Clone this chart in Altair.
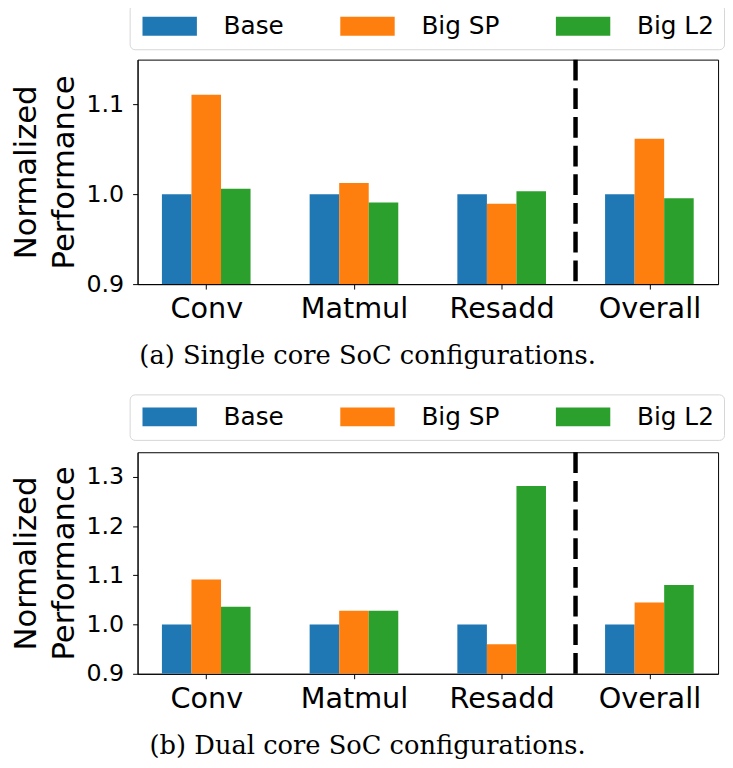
import json
import altair as alt
import pandas as pd

categories = ["Conv", "Matmul", "Resadd", "Overall"]
series = ["Base", "Big SP", "Big L2"]
colors = ["#1f77b4", "#ff7f0e", "#2ca02c"]

single_base = [1.000, 1.000, 1.000, 1.000]
single_sp = [1.111, 1.0125, 0.9896, 1.0619]
single_l2 = [1.0062, 0.991, 1.0033, 0.9955]

dual_base = [1.000, 1.000, 1.000, 1.000]
dual_sp = [1.0917, 1.028, 0.960, 1.0448]
dual_l2 = [1.036, 1.028, 1.2814, 1.0804]

single_ticks = [0.9, 1.0, 1.1]
dual_ticks = [0.9, 1.0, 1.1, 1.2, 1.3]
single_domain = [0.9, 1.15]
dual_domain = [0.9, 1.35]
divider = [2.5]

captions = ["(a) Single core SoC configurations.", "(b) Dual core SoC configurations."]

BAR_W = 0.2
X_DOMAIN = [-0.465, 3.465]
label_expr = json.dumps(categories) + "[datum.value]"


def make_df(vals):
    rows = []
    for si, (s, arr) in enumerate(zip(series, vals)):
        for ci, (c, v) in enumerate(zip(categories, arr)):
            rows.append({"cat": c, "ci": ci, "series": s, "si": si, "value": v})
    return pd.DataFrame(rows)


def x_axis():
    return alt.Axis(values=[0, 1, 2, 3], labelExpr=label_expr, title=None, grid=False,
                    labelFontSize=29, labelAngle=0, tickSize=5, labelPadding=6,
                    labelFlush=False, domainColor="black", tickColor="black",
                    labelColor="black", labelFont="DejaVu Sans")


def panel(vals, domain, ticks, height, legend_y, caption):
    df = make_df(vals)
    xscale = alt.Scale(domain=X_DOMAIN, nice=False, zero=False)
    bars = alt.Chart(df).transform_calculate(
        x0=f"datum.ci + (datum.si - 1) * {BAR_W} - {BAR_W / 2}",
        x1=f"datum.ci + (datum.si - 1) * {BAR_W} + {BAR_W / 2}",
    ).mark_bar(clip=True).encode(
        x=alt.X("x0:Q", scale=xscale, axis=x_axis()),
        x2="x1:Q",
        y=alt.Y("value:Q", scale=alt.Scale(domain=domain, nice=False, zero=False),
                axis=alt.Axis(values=ticks, format=".1f", grid=False,
                              title=["Normalized", "Performance"],
                              titleFontSize=31, titleFontWeight="normal",
                              titleLineHeight=38, titlePadding=6,
                              titleColor="black", titleFont="DejaVu Sans",
                              labelFontSize=24, labelFont="DejaVu Sans",
                              labelColor="black", tickSize=5, labelPadding=9,
                              domainColor="black", tickColor="black")),
        y2=alt.Y2(datum=domain[0]),
        color=alt.Color("series:N", sort=series,
                        scale=alt.Scale(domain=series, range=colors),
                        legend=alt.Legend(title=None, orient="none", direction="horizontal",
                                          legendX=-8, legendY=legend_y,
                                          symbolType="M-1,-1L4.79,-1L4.79,1L-1,1Z",
                                          symbolSize=361, symbolStrokeWidth=0,
                                          labelFontSize=25, labelFont="DejaVu Sans",
                                          labelColor="black", labelOffset=60,
                                          columnPadding=54, padding=10,
                                          strokeColor="#d6d6d6", cornerRadius=5,
                                          fillColor="white")),
    )
    rule = alt.Chart(pd.DataFrame({"pos": divider})).mark_rule(
        color="black", strokeWidth=4.5, strokeDash=[21, 8]
    ).encode(x=alt.X("pos:Q", scale=xscale, axis=x_axis()))
    return alt.layer(bars, rule).properties(
        width=587, height=height,
        title=alt.TitleParams(caption, orient="bottom", anchor="middle", frame="bounds",
                              font="DejaVu Serif", fontSize=26, fontWeight="normal",
                              color="black", offset=20),
    )


c1 = panel([single_base, single_sp, single_l2], single_domain, single_ticks, 227, -56.5, captions[0])
c2 = panel([dual_base, dual_sp, dual_l2], dual_domain, dual_ticks, 224, -58.5, captions[1])

chart = alt.vconcat(c1, c2, spacing=23).resolve_legend(color="independent").properties(
    padding={"left": 2, "top": -10, "right": 0, "bottom": -2}
).configure_view(stroke="black", strokeWidth=1)

chart.save("out.html", embed_options={"renderer": "svg", "actions": False})
